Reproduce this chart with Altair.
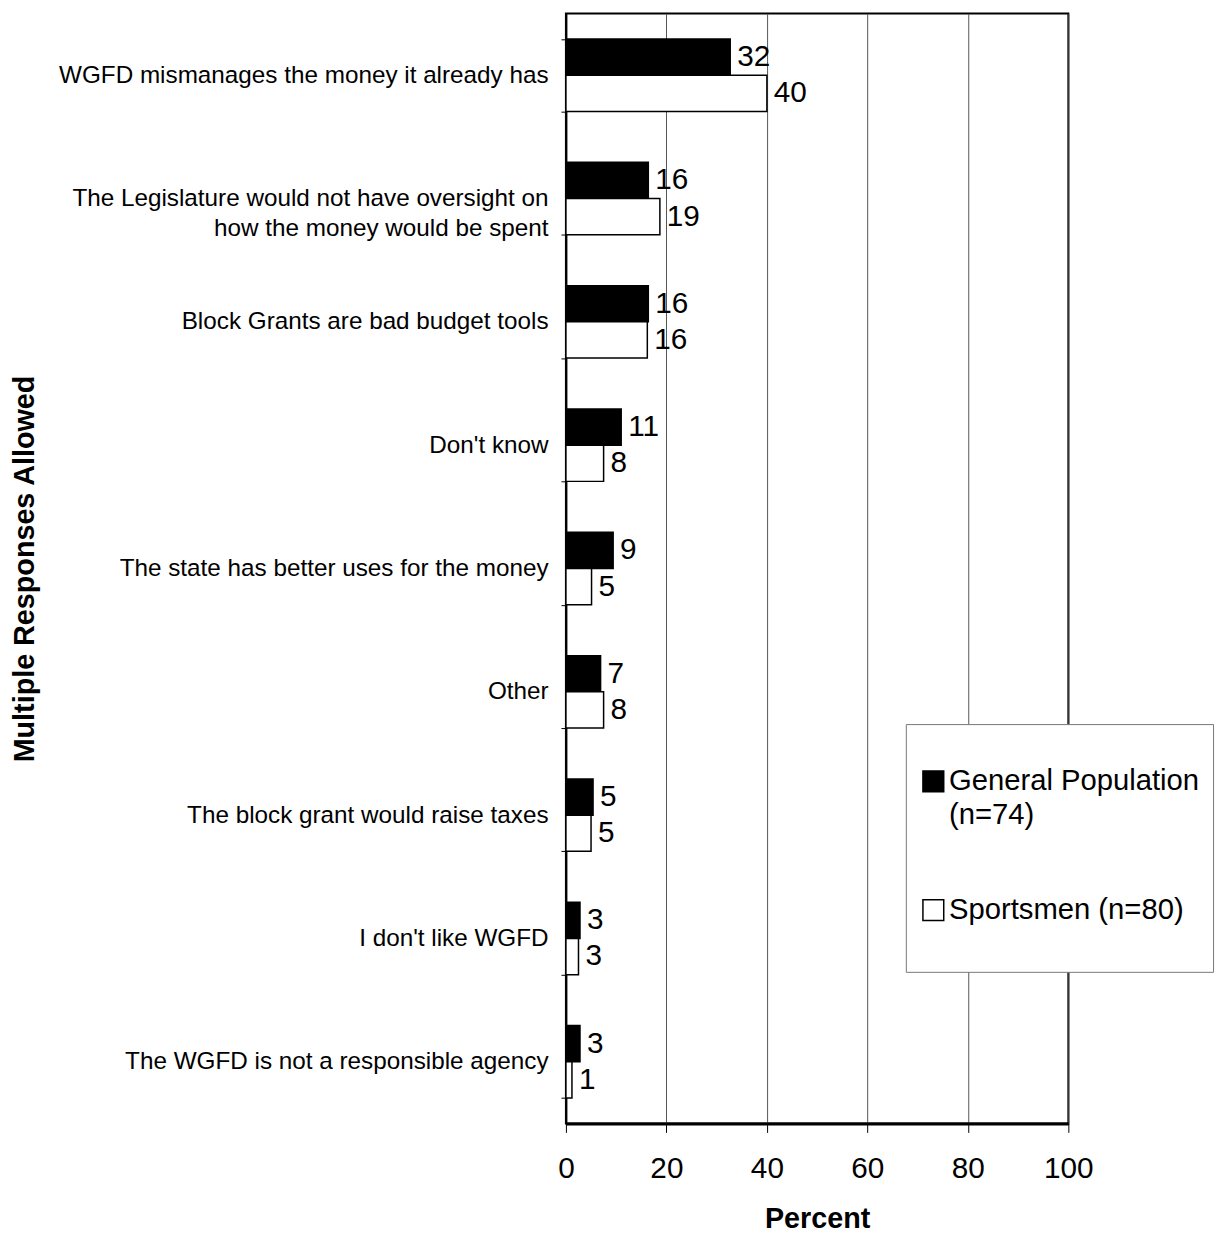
import altair as alt
import pandas as pd

FONT = "Liberation Sans"

categories = [
    "WGFD mismanages the money it already has",
    "The Legislature would not have oversight on|how the money would be spent",
    "Block Grants are bad budget tools",
    "Don't know",
    "The state has better uses for the money",
    "Other",
    "The block grant would raise taxes",
    "I don't like WGFD",
    "The WGFD is not a responsible agency",
]
series_names = ["General Population (n=74)", "Sportsmen (n=80)"]
general_values = [32.7, 16.4, 16.4, 11.0, 9.4, 6.9, 5.4, 2.8, 2.8]
sportsmen_values = [40.0, 18.7, 16.2, 7.5, 5.1, 7.5, 5.0, 2.5, 1.2]
general_labels = ["32", "16", "16", "11", "9", "7", "5", "3", "3"]
sportsmen_labels = ["40", "19", "16", "8", "5", "8", "5", "3", "1"]
x_ticks = [0, 20, 40, 60, 80, 100]

rows = []
for i, c in enumerate(categories):
    rows.append({"category": c, "series": series_names[0],
                 "value": general_values[i], "label": general_labels[i]})
    rows.append({"category": c, "series": series_names[1],
                 "value": sportsmen_values[i], "label": sportsmen_labels[i]})
df = pd.DataFrame(rows)

y_enc = alt.Y(
    "category:N",
    sort=categories,
    scale=alt.Scale(paddingInner=0.413, paddingOuter=0.2065),
    title="Multiple Responses Allowed",
    axis=alt.Axis(
        tickBand="extent", tickSize=5, tickColor="black", tickWidth=1,
        domainColor="black", domainWidth=2,
        labelFontSize=24.5, labelPadding=13, labelLimit=800,
        labelLineHeight=30, labelExpr="split(datum.label, '|')",
        labelColor="black", labelFont=FONT,
        titleFontSize=29, titleFontWeight="bold",
        titleX=-531, titleY=560,
        titleColor="black", titleFont=FONT, grid=False,
    ),
)
yoff = alt.YOffset("series:N", sort=series_names,
                   scale=alt.Scale(paddingInner=0, paddingOuter=0))
x_enc = alt.X(
    "value:Q",
    scale=alt.Scale(domain=[0, 100], nice=False),
    title="Percent",
    axis=alt.Axis(
        values=x_ticks, format="d", tickSize=9, tickColor="black",
        domainColor="black", domainWidth=3, labelFlush=False,
        labelFontSize=30, labelPadding=22, labelColor="black", labelFont=FONT,
        grid=True, gridColor="#555555", gridWidth=1,
        titleFontSize=29, titleFontWeight="bold", titlePadding=21,
        titleColor="black", titleFont=FONT,
    ),
)

legend_label_expr = (
    "length(datum.label) > 20 ? "
    "[slice(datum.label, 0, indexof(datum.label, ' (')), "
    "slice(datum.label, indexof(datum.label, ' (') + 1)] : [datum.label, '']"
)

bars = alt.Chart(df).mark_bar(stroke="black", strokeWidth=1.5).encode(
    x=x_enc,
    y=y_enc,
    yOffset=yoff,
    fill=alt.Fill(
        "series:N",
        scale=alt.Scale(domain=series_names, range=["black", "white"]),
        legend=alt.Legend(
            title=" ", titleFontSize=30, titlePadding=0,
            orient="none", legendX=343, legendY=717,
            padding=13, strokeColor="#777777", fillColor="white",
            symbolType="square",
            symbolSize=441, symbolStrokeColor="black", symbolStrokeWidth=1.5,
            labelFontSize=29.5, labelOffset=1,
            labelLimit=400, labelFont=FONT, labelColor="black",
            rowPadding=65, labelExpr=legend_label_expr,
        ),
    ),
)

text = alt.Chart(df).mark_text(
    align="left", baseline="middle", dx=7, fontSize=30, font=FONT, color="black"
).encode(
    x=x_enc,
    y=y_enc,
    yOffset=yoff,
    text="label:N",
)

chart = alt.layer(bars, text).properties(
    width=507,
    height=1120,
    autosize=alt.AutoSizeParams(type="none"),
    padding={"left": 563, "top": 0, "right": 150, "bottom": 112},
).configure(
    font=FONT,
    style={"guide-label": {"lineHeight": 34}},
).configure_view(stroke="black", strokeWidth=2)

chart.save("out.html", embed_options={"renderer": "svg", "actions": False})
